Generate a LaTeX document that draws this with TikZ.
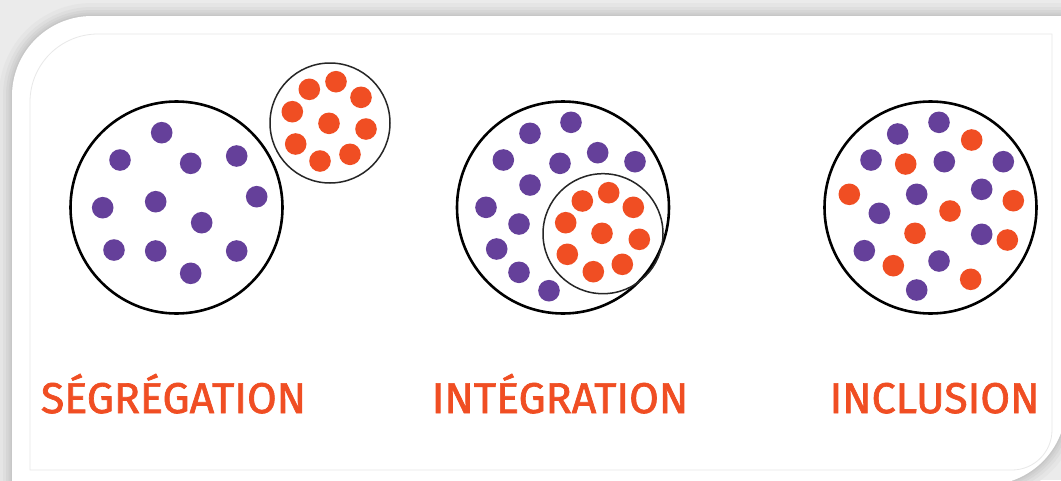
\documentclass[tikz,border=0pt]{standalone}
\usepackage{fontspec}
\usepackage{xcolor}
\newfontfamily\tagfont{Fira Sans}[FakeBold=1.6]
\definecolor{dotorange}{HTML}{F04E23}
\definecolor{dotpurple}{HTML}{65409A}
\usetikzlibrary{positioning}

\begin{document}
\begin{tikzpicture}[x=1pt,y=-1pt,
	ring/.style={draw=black,line width=2.6},
	smallring/.style={draw=black!85,line width=1.5},
	tagtext/.style={text=dotorange,font=\tagfont\fontsize{43}{43}\selectfont,anchor=base,inner sep=0}]
		\def \dotr {10.8};
		\useasboundingbox (0,0) rectangle (1061,480);
		% card with its shadow
		\fill[black!8] (0,0) rectangle (1061,480);
		\foreach \w/\s in {26/10,18/13,12/16,7/19,3/22}
		{
			\draw[black!\s,line width=\w] (12,485) -- (12,96) arc[start angle=180,end angle=270,radius=80] -- (1066,16) -- (1066,405) arc[start angle=0,end angle=90,radius=80] -- cycle;
		}
		\fill[white] (12,485) -- (12,96) arc[start angle=180,end angle=270,radius=80] -- (1066,16) -- (1066,405) arc[start angle=0,end angle=90,radius=80] -- cycle;
		\draw[black!9,line width=0.8] (30,470) -- (30,102) arc[start angle=180,end angle=270,radius=68] -- (1052,34) -- (1052,430) arc[start angle=0,end angle=90,radius=40] -- cycle;

		% segregation
		\draw[ring] (176.5,207.5) circle (106);
		\draw[smallring] (330,123) circle (60);
		\foreach \x/\y in {161.7/132.7,120/160,190.7/163.3,236.7/156,102.7/207.7,155.7/201.7,256.7/196.7,201.7/222.7,114/250,155.7/251,236.7/251,190.7/273.3}
		{
			\fill[dotpurple] (\x,\y) circle (\dotr);
		}
		\foreach \x/\y in {309.3/89.3,336/81.7,361/97.3,292.3/111.7,329/123.3,366/129,295.7/144,350/154.3,320/161}
		{
			\fill[dotorange] (\x,\y) circle (\dotr);
		}

		% integration
		\draw[ring] (563,207.5) circle (106);
		\draw[smallring] (603,233.7) circle (60);
		\foreach \x/\y in {571/122.3,530/133.3,503.3/160,560/163.3,597.7/152.7,635/161.7,530/185,486/207.3,519/224,496.7/249,519/272.3,549/290.7}
		{
			\fill[dotpurple] (\x,\y) circle (\dotr);
		}
		\foreach \x/\y in {582.3/201,608.7/192.7,633.3/207.3,565.7/222.7,602/233.3,639.3/239.3,567.3/254.3,622.3/264.3,593.3/271.7}
		{
			\fill[dotorange] (\x,\y) circle (\dotr);
		}

		% inclusion
		\draw[ring] (930.5,207.5) circle (106);
		\foreach \x/\y in {939/122.3,897.7/134,871/160,944.3/161.7,1003.3/161.7,916.7/194.3,981.7/189.3,879.3/213.3,981.7/234.3,864.3/250.7,939/261,916.7/290}
		{
			\fill[dotpurple] (\x,\y) circle (\dotr);
		}
		\foreach \x/\y in {971.7/140,905.7/164,849.3/194.3,1013.3/200.7,950/211,915/233.3,1007.3/240,893.3/265.7,970.7/279.3}
		{
			\fill[dotorange] (\x,\y) circle (\dotr);
		}

		\node[tagtext] (seg) at (173.5,413) {SÉGRÉGATION};
		\node[tagtext] (integ) at (560,413) {INTÉGRATION};
		\node[tagtext] (incl) at (934.5,413) {INCLUSION};
	\end{tikzpicture}
\end{document}
